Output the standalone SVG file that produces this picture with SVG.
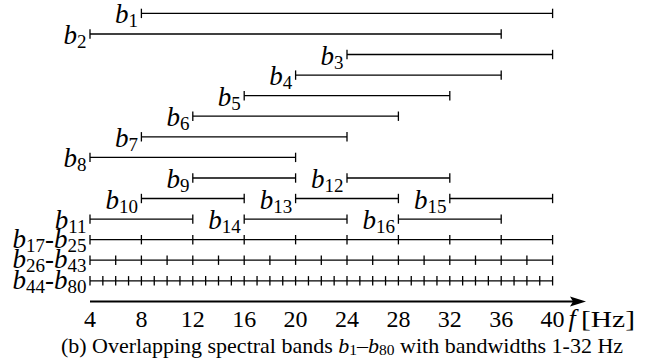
<svg xmlns="http://www.w3.org/2000/svg" width="651" height="358" viewBox="0 0 651 358">
<style>
.ln{stroke:#000;stroke-width:1.3;fill:none;marker-start:url(#bar);marker-end:url(#bar)}
.tk{stroke:#000;stroke-width:1.3;fill:none;marker-start:url(#bar);marker-mid:url(#bar);marker-end:url(#bar)}
text{font-family:"Liberation Serif","DejaVu Serif",serif}
.lb{font-size:27px;fill:#000;text-anchor:end}
.i{font-style:italic}
.s{font-size:19px}
.ax{font-size:24px;fill:#000;text-anchor:middle}
.cap{font-size:22px;fill:#000;text-anchor:middle}
.cs{font-size:15.5px}
</style>
<defs>
<marker id="bar" markerUnits="userSpaceOnUse" markerWidth="4" markerHeight="12" viewBox="-2 -6 4 12" refX="0" refY="0" orient="0" overflow="visible">
<path d="M0 -4.7V4.7" stroke="#000" stroke-width="1.3"/>
</marker>
</defs>
<g id="bands">
<g id="b1"><path class="ln" d="M141.4 13.4H552.6"/><text class="lb" x="138" y="23.4"><tspan class="i">b</tspan><tspan class="s" dy="4">1</tspan></text></g>
<g id="b2"><path class="ln" d="M90 34H501.2"/><text class="lb" x="86.6" y="44"><tspan class="i">b</tspan><tspan class="s" dy="4">2</tspan></text></g>
<g id="b3"><path class="ln" d="M347 54.5H552.6"/><text class="lb" x="343.6" y="64.5"><tspan class="i">b</tspan><tspan class="s" dy="4">3</tspan></text></g>
<g id="b4"><path class="ln" d="M295.6 75.1H501.2"/><text class="lb" x="292.2" y="85.1"><tspan class="i">b</tspan><tspan class="s" dy="4">4</tspan></text></g>
<g id="b5"><path class="ln" d="M244.2 95.7H449.8"/><text class="lb" x="240.8" y="105.7"><tspan class="i">b</tspan><tspan class="s" dy="4">5</tspan></text></g>
<g id="b6"><path class="ln" d="M192.8 116.2H398.4"/><text class="lb" x="189.4" y="126.2"><tspan class="i">b</tspan><tspan class="s" dy="4">6</tspan></text></g>
<g id="b7"><path class="ln" d="M141.4 136.8H347"/><text class="lb" x="138" y="146.8"><tspan class="i">b</tspan><tspan class="s" dy="4">7</tspan></text></g>
<g id="b8"><path class="ln" d="M90 157.4H295.6"/><text class="lb" x="86.6" y="167.4"><tspan class="i">b</tspan><tspan class="s" dy="4">8</tspan></text></g>
<g id="b9"><path class="ln" d="M192.8 178H295.6"/><text class="lb" x="189.4" y="188"><tspan class="i">b</tspan><tspan class="s" dy="4">9</tspan></text></g>
<g id="b12"><path class="ln" d="M347 178H449.8"/><text class="lb" x="343.6" y="188"><tspan class="i">b</tspan><tspan class="s" dy="4">12</tspan></text></g>
<g id="b10"><path class="ln" d="M141.4 198.5H244.2"/><text class="lb" x="138" y="208.5"><tspan class="i">b</tspan><tspan class="s" dy="4">10</tspan></text></g>
<g id="b13"><path class="ln" d="M295.6 198.5H398.4"/><text class="lb" x="292.2" y="208.5"><tspan class="i">b</tspan><tspan class="s" dy="4">13</tspan></text></g>
<g id="b15"><path class="ln" d="M449.8 198.5H552.6"/><text class="lb" x="446.4" y="208.5"><tspan class="i">b</tspan><tspan class="s" dy="4">15</tspan></text></g>
<g id="b11"><path class="ln" d="M90 219.1H192.8"/><text class="lb" x="86.6" y="228.8"><tspan class="i">b</tspan><tspan class="s" dy="4">11</tspan></text></g>
<g id="b14"><path class="ln" d="M244.2 219.1H347"/><text class="lb" x="240.8" y="229.1"><tspan class="i">b</tspan><tspan class="s" dy="4">14</tspan></text></g>
<g id="b16"><path class="ln" d="M398.4 219.1H501.2"/><text class="lb" x="395" y="229.1"><tspan class="i">b</tspan><tspan class="s" dy="4">16</tspan></text></g>
<g id="b17-b25"><polyline class="tk" points="90,239.7 141.4,239.7 192.8,239.7 244.2,239.7 295.6,239.7 347,239.7 398.4,239.7 449.8,239.7 501.2,239.7 552.6,239.7"/><text class="lb" x="86.6" y="247.8"><tspan class="i">b</tspan><tspan class="s" dy="4">17</tspan><tspan dy="-4">-</tspan><tspan class="i">b</tspan><tspan class="s" dy="4">25</tspan></text></g>
<g id="b26-b43"><polyline class="tk" points="90,260.2 115.7,260.2 141.4,260.2 167.1,260.2 192.8,260.2 218.5,260.2 244.2,260.2 269.9,260.2 295.6,260.2 321.3,260.2 347,260.2 372.7,260.2 398.4,260.2 424.1,260.2 449.8,260.2 475.5,260.2 501.2,260.2 526.9,260.2 552.6,260.2"/><text class="lb" x="86.6" y="268.3"><tspan class="i">b</tspan><tspan class="s" dy="4">26</tspan><tspan dy="-4">-</tspan><tspan class="i">b</tspan><tspan class="s" dy="4">43</tspan></text></g>
<g id="b44-b80"><polyline class="tk" points="90,280.8 102.85,280.8 115.7,280.8 128.55,280.8 141.4,280.8 154.25,280.8 167.1,280.8 179.95,280.8 192.8,280.8 205.65,280.8 218.5,280.8 231.35,280.8 244.2,280.8 257.05,280.8 269.9,280.8 282.75,280.8 295.6,280.8 308.45,280.8 321.3,280.8 334.15,280.8 347,280.8 359.85,280.8 372.7,280.8 385.55,280.8 398.4,280.8 411.25,280.8 424.1,280.8 436.95,280.8 449.8,280.8 462.65,280.8 475.5,280.8 488.35,280.8 501.2,280.8 514.05,280.8 526.9,280.8 539.75,280.8 552.6,280.8"/><text class="lb" x="86.6" y="288.9"><tspan class="i">b</tspan><tspan class="s" dy="4">44</tspan><tspan dy="-4">-</tspan><tspan class="i">b</tspan><tspan class="s" dy="4">80</tspan></text></g>
</g>
<g id="axis">
<path d="M90 301.5H573" stroke="#000" stroke-width="1.8" fill="none"/>
<path d="M586 301.5L570 296.5L573 301.5L570 306.5Z" fill="#000"/>
<g class="ax">
<text x="90" y="327.3">4</text><text x="141.4" y="327.3">8</text><text x="192.8" y="327.3">12</text><text x="244.2" y="327.3">16</text><text x="295.6" y="327.3">20</text><text x="347" y="327.3">24</text><text x="398.4" y="327.3">28</text><text x="449.8" y="327.3">32</text><text x="501.2" y="327.3">36</text><text x="552.6" y="327.3">40</text>
</g>
<text class="ax i" x="568.5" y="327.3" style="text-anchor:start;font-size:26px">f</text>
<text class="ax" x="581" y="327.3" style="text-anchor:start" textLength="54" lengthAdjust="spacingAndGlyphs">[Hz]</text>
</g>
<text class="cap" x="342" y="352.5">(b) Overlapping spectral bands <tspan class="i">b</tspan><tspan class="cs" dy="2.5">1</tspan><tspan dy="-2.5">–</tspan><tspan class="i">b</tspan><tspan class="cs" dy="2.5">80</tspan><tspan dy="-2.5"> with bandwidths 1-32 Hz</tspan></text>
</svg>
